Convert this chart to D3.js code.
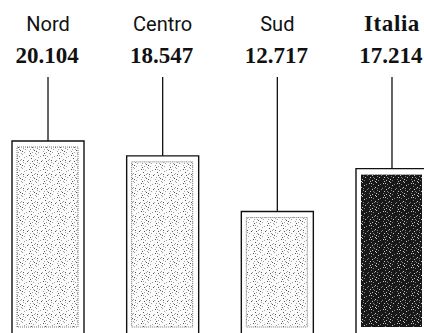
<!DOCTYPE html>
<html>
<head>
<meta charset="utf-8">
<script src="https://cdn.jsdelivr.net/npm/d3@7"></script>
<style>
  html, body { margin: 0; padding: 0; background: #fff; }
  svg { display: block; }
</style>
</head>
<body>
<svg id="chart" width="424" height="333"></svg>
<script>
const categories = ["Nord", "Centro", "Sud", "Italia"];
const values = [20104, 18547, 12717, 17214];
const highlight = [false, false, false, true];

const W = 424, H = 333;
const svg = d3.select("#chart");
const itLocale = d3.formatLocale({decimal: ",", thousands: ".", grouping: [3], currency: ["€", ""]});
const fmt = itLocale.format(",");

const x = d3.scaleBand().domain(categories).range([12, 428]).paddingInner(0.372).paddingOuter(0);
const y = d3.scaleLinear().domain([0, 20104]).range([333, 141]);

// stipple patterns (fixed positions)
const defs = svg.append("defs");
const lightDots = [[1,1],[5,2],[8,0],[3,4],[7,5],[0,6],[4,7],[9,8],[2,9],[6,10],[10,3],[1,11],[8,11],[5,9],[3,1],[9,6],[11,9],[6,6],[2,13],[12,2],[7,13],[13,7],[4,12],[10,12]];
const pl = defs.append("pattern").attr("id", "pLight").attr("patternUnits", "userSpaceOnUse")
  .attr("width", 14).attr("height", 14);
pl.append("rect").attr("width", 14).attr("height", 14).attr("fill", "#fbfbfb");
pl.selectAll("rect.d").data(lightDots).join("rect").attr("class", "d")
  .attr("x", d => d[0]).attr("y", d => d[1]).attr("width", 1).attr("height", 1)
  .attr("fill", (d, i) => i % 3 === 0 ? "#555" : "#a0a0a0");
const pd = defs.append("pattern").attr("id", "pDark").attr("patternUnits", "userSpaceOnUse")
  .attr("width", 14).attr("height", 14);
pd.append("rect").attr("width", 14).attr("height", 14).attr("fill", "#181818");
pd.selectAll("rect.d").data(lightDots).join("rect").attr("class", "d")
  .attr("x", d => (d[0] + 4) % 14).attr("y", d => d[1]).attr("width", 1).attr("height", 1)
  .attr("fill", (d, i) => i % 2 === 0 ? "#c8c8c8" : "#808080");

const g = svg.selectAll("g.bar").data(categories).join("g").attr("class", "bar");

// outer frame (open at bottom)
g.append("path")
  .attr("d", (c, i) => {
    const x0 = x(c), x1 = x(c) + x.bandwidth(), yt = y(values[i]);
    return `M${x0},${H}V${yt}H${x1}V${H}`;
  })
  .attr("fill", "none").attr("stroke", "#111").attr("stroke-width", 1.4);

// inner stipple rect
g.append("rect")
  .attr("x", c => x(c) + 5)
  .attr("y", (c, i) => y(values[i]) + 6)
  .attr("width", x.bandwidth() - 11)
  .attr("height", (c, i) => y(0) - y(values[i]) - 12)
  .attr("fill", (c, i) => highlight[i] ? "url(#pDark)" : "url(#pLight)")
  .attr("stroke", (c, i) => highlight[i] ? "none" : "#777")
  .attr("stroke-width", 1)
  .attr("stroke-dasharray", "1,1");

// connector lines
g.append("line")
  .attr("x1", c => x(c) + x.bandwidth() / 2)
  .attr("x2", c => x(c) + x.bandwidth() / 2)
  .attr("y1", 77)
  .attr("y2", (c, i) => y(values[i]))
  .attr("stroke", "#111").attr("stroke-width", 1.3);

// category labels
g.append("text")
  .attr("x", c => x(c) + x.bandwidth() / 2)
  .attr("y", 31)
  .attr("text-anchor", "middle")
  .attr("font-family", (c, i) => highlight[i] ? "'Liberation Serif', serif" : "Roboto, sans-serif")
  .attr("font-weight", (c, i) => highlight[i] ? "bold" : "normal")
  .attr("font-size", (c, i) => highlight[i] ? 23 : 20)
  .attr("letter-spacing", (c, i) => highlight[i] ? 0.6 : 0)
  .attr("fill", "#111")
  .text(c => c);

// value labels
g.append("text")
  .attr("x", c => x(c) + x.bandwidth() / 2 - 1)
  .attr("y", 63)
  .attr("text-anchor", "middle")
  .attr("font-family", "'Liberation Serif', serif")
  .attr("font-weight", "bold")
  .attr("font-size", 23)
  .attr("fill", "#111")
  .text((c, i) => fmt(values[i]));
</script>
</body>
</html>
